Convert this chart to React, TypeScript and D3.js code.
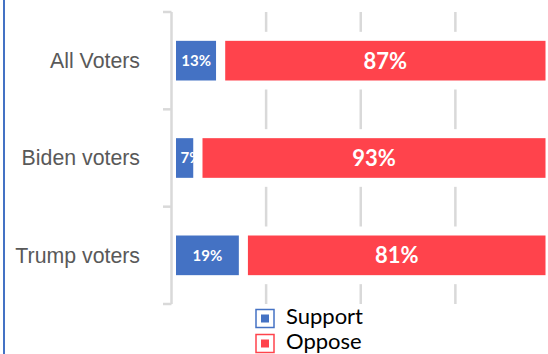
import React from "react";
import * as d3 from "d3";

const categories = ["All Voters", "Biden voters", "Trump voters"];
const support = [13, 7, 19];
const oppose = [87, 93, 81];
const seriesNames = ["Support", "Oppose"];
const gridTicks = [25, 50, 75];

const W = 548;
const H = 354;
const BLUE = "#4472c4";
const RED = "#ff434c";
const GRID = "#d9d9d9";
const SW = 9;

export default function App() {
  const x = d3.scaleLinear().domain([0, 100]).range([171.5, 550]);
  const y = d3
    .scaleBand<string>()
    .domain(categories)
    .range([12, 304])
    .paddingInner(0.5)
    .paddingOuter(0.25);
  const bw = y.bandwidth();
  const step = y.step();
  const boundaries = [0, 1, 2, 3].map((i) => 12 + i * step);

  return (
    <svg
      width={W}
      height={H}
      style={{ position: "absolute", left: 0, top: 0 }}
    >
      <rect x={0} y={0} width={W} height={H} fill="#fff" />
      <line x1={4} x2={4} y1={0} y2={H} stroke={BLUE} strokeWidth={2} />
      {gridTicks.map((t) => (
        <line
          key={t}
          x1={x(t)}
          x2={x(t)}
          y1={12}
          y2={304}
          stroke={GRID}
          strokeWidth={2.5}
        />
      ))}
      {categories.map((c, i) => {
        const y0 = y(c)!;
        const cy = y0 + bw / 2;
        const s = support[i];
        const o = oppose[i];
        const fs = 15;
        const estW = (String(s).length * 0.58 + 0.85) * fs;
        const visW = x(s) - x(0) - SW;
        const fits = visW >= estW + 6;
        return (
          <g key={c}>
            <text
              x={140}
              y={cy}
              dy="0.35em"
              textAnchor="end"
              fontFamily="Liberation Sans, Arial, sans-serif"
              fontSize={21.3}
              fill="#595959"
            >
              {c}
            </text>
            <rect
              x={x(0)}
              y={y0}
              width={x(s) - x(0)}
              height={bw}
              fill={BLUE}
              stroke="#fff"
              strokeWidth={SW}
            />
            <text
              x={fits ? (x(0) + x(s)) / 2 : x(0) + SW / 2 + 4.5}
              y={cy}
              dy="0.36em"
              textAnchor={fits ? "middle" : "start"}
              fontFamily="Lato, sans-serif"
              fontWeight="bold"
              fontSize={fs}
              fill="#fff"
            >
              {s}%
            </text>
            <rect
              x={x(s)}
              y={y0}
              width={x(s + o) - x(s)}
              height={bw}
              fill={RED}
              stroke="#fff"
              strokeWidth={SW}
            />
            <text
              x={(x(s) + x(s + o)) / 2}
              y={cy}
              dy="0.36em"
              textAnchor="middle"
              fontFamily="Lato, sans-serif"
              fontWeight="bold"
              fontSize={22}
              fill="#fff"
            >
              {o}%
            </text>
          </g>
        );
      })}
      <line x1={x(0)} x2={x(0)} y1={12} y2={304} stroke={GRID} strokeWidth={2.5} />
      {boundaries.map((b, i) => (
        <line key={i} x1={163} x2={x(0)} y1={b} y2={b} stroke={GRID} strokeWidth={2.5} />
      ))}
      {seriesNames.map((n, i) => {
        const col = i === 0 ? BLUE : RED;
        const ly = 309 + i * 25;
        return (
          <g key={n}>
            <rect
              x={256}
              y={ly + 0.5}
              width={18}
              height={18}
              fill="#fff"
              stroke={col}
              strokeWidth={1.5}
            />
            <rect x={261} y={ly + 5.5} width={8} height={8} fill={col} />
            <text
              x={286}
              y={ly + 7.5}
              dy="0.35em"
              fontFamily="Lato, sans-serif"
              fontSize={22}
              fill="#000"
            >
              {n}
            </text>
          </g>
        );
      })}
    </svg>
  );
}
